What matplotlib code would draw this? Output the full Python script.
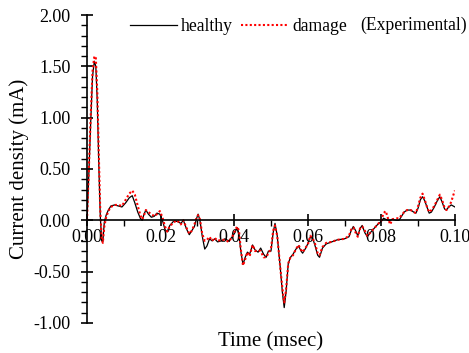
import numpy as np
import matplotlib
matplotlib.use("Agg")
from matplotlib import pyplot as plt
from matplotlib.ticker import MultipleLocator, FormatStrFormatter

plt.rcParams['font.family'] = ['Liberation Serif', 'DejaVu Serif']

# time (msec) and current density (mA) for both specimens
time_ms = [0.0000, 0.0005, 0.0010, 0.0015, 0.0020, 0.0024, 0.0028, 0.0032, 0.0036, 0.0040,
           0.0043, 0.0047, 0.0052, 0.0058, 0.0065, 0.0075, 0.0085, 0.0095, 0.0105, 0.0115,
           0.0123, 0.0130, 0.0138, 0.0145, 0.0150, 0.0155, 0.0160, 0.0167, 0.0175, 0.0183,
           0.0190, 0.0198, 0.0205, 0.0212, 0.0218, 0.0225, 0.0235, 0.0245, 0.0255, 0.0262,
           0.0270, 0.0278, 0.0285, 0.0292, 0.0298, 0.0302, 0.0307, 0.0313, 0.0320, 0.0326,
           0.0333, 0.0340, 0.0347, 0.0355, 0.0365, 0.0375, 0.0385, 0.0395, 0.0402, 0.0408,
           0.0413, 0.0418, 0.0424, 0.0430, 0.0436, 0.0442, 0.0450, 0.0457, 0.0465, 0.0472,
           0.0480, 0.0487, 0.0493, 0.0500, 0.0506, 0.0511, 0.0517, 0.0525, 0.0531, 0.0536,
           0.0541, 0.0547, 0.0553, 0.0560, 0.0568, 0.0575, 0.0582, 0.0586, 0.0593, 0.0600,
           0.0607, 0.0614, 0.0620, 0.0627, 0.0632, 0.0640, 0.0650, 0.0665, 0.0680, 0.0700,
           0.0712, 0.0718, 0.0724, 0.0730, 0.0736, 0.0742, 0.0748, 0.0755, 0.0762, 0.0770,
           0.0780, 0.0790, 0.0800, 0.0806, 0.0812, 0.0818, 0.0824, 0.0830, 0.0840, 0.0848,
           0.0855, 0.0862, 0.0870, 0.0880, 0.0888, 0.0894, 0.0900, 0.0906, 0.0912, 0.0918,
           0.0925, 0.0930, 0.0936, 0.0944, 0.0952, 0.0959, 0.0965, 0.0972, 0.0977, 0.0983,
           0.0990, 0.0995, 0.1000]

healthy = [0.00, 0.45, 0.95, 1.40, 1.55, 1.50, 1.15, 0.55, 0.05, -0.20,
           -0.21, -0.02, 0.05, 0.10, 0.14, 0.15, 0.14, 0.13, 0.17, 0.22,
           0.24, 0.17, 0.08, 0.02, 0.00, 0.06, 0.10, 0.06, 0.03, 0.04,
           0.07, 0.06, 0.00, -0.09, -0.11, -0.05, -0.01, -0.01, -0.03, 0.00,
           -0.08, -0.14, -0.10, -0.06, 0.02, 0.06, 0.00, -0.15, -0.28, -0.25,
           -0.18, -0.20, -0.18, -0.21, -0.20, -0.18, -0.20, -0.16, -0.12, -0.07,
           -0.14, -0.30, -0.43, -0.36, -0.31, -0.33, -0.24, -0.29, -0.31, -0.27,
           -0.33, -0.36, -0.30, -0.30, -0.12, -0.03, -0.15, -0.45, -0.70, -0.85,
           -0.70, -0.42, -0.36, -0.33, -0.28, -0.25, -0.30, -0.32, -0.28, -0.23,
           -0.16, -0.18, -0.25, -0.34, -0.36, -0.27, -0.23, -0.21, -0.19, -0.18,
           -0.16, -0.10, -0.06, -0.10, -0.15, -0.08, -0.05, -0.12, -0.16, -0.12,
           -0.08, -0.04, -0.01, 0.02, 0.01, 0.00, 0.00, 0.01, 0.00, 0.00,
           0.04, 0.08, 0.10, 0.10, 0.08, 0.07, 0.12, 0.20, 0.23, 0.19,
           0.12, 0.07, 0.08, 0.13, 0.19, 0.23, 0.18, 0.11, 0.10, 0.13,
           0.15, 0.14, 0.13]

damage = [0.00, 0.50, 1.00, 1.45, 1.60, 1.58, 1.25, 0.65, 0.10, -0.18,
          -0.22, -0.06, 0.03, 0.09, 0.13, 0.15, 0.15, 0.14, 0.20, 0.26,
          0.29, 0.25, 0.14, 0.05, 0.01, 0.05, 0.10, 0.08, 0.06, 0.04,
          0.06, 0.09, 0.03, -0.06, -0.11, -0.06, -0.02, 0.00, -0.04, 0.00,
          -0.07, -0.13, -0.10, -0.04, 0.03, 0.05, 0.01, -0.13, -0.20, -0.19,
          -0.16, -0.20, -0.17, -0.20, -0.19, -0.19, -0.21, -0.16, -0.10, -0.06,
          -0.10, -0.28, -0.44, -0.38, -0.31, -0.35, -0.24, -0.30, -0.29, -0.30,
          -0.36, -0.36, -0.32, -0.28, -0.10, -0.05, -0.15, -0.45, -0.66, -0.80,
          -0.68, -0.42, -0.36, -0.34, -0.28, -0.24, -0.29, -0.31, -0.27, -0.24,
          -0.15, -0.18, -0.23, -0.32, -0.34, -0.26, -0.22, -0.21, -0.19, -0.18,
          -0.15, -0.09, -0.07, -0.12, -0.16, -0.08, -0.06, -0.10, -0.15, -0.12,
          -0.08, -0.04, 0.00, 0.07, 0.09, 0.02, -0.04, 0.01, 0.02, 0.02,
          0.05, 0.08, 0.10, 0.10, 0.08, 0.07, 0.14, 0.22, 0.26, 0.20,
          0.12, 0.08, 0.10, 0.14, 0.20, 0.25, 0.20, 0.12, 0.10, 0.13,
          0.18, 0.24, 0.29]

fig = plt.figure(figsize=(4.69, 3.53), dpi=100)
ax = fig.add_axes([0.1855, 0.085, 0.7845, 0.8725])

ax.plot(time_ms, healthy, color='black', lw=0.9, label='healthy')
ax.plot(time_ms, damage, color='red', lw=1.5, dashes=(1, 1.1), label='damage')

ax.set_xlim(0, 0.1)
ax.set_ylim(-1, 2)

# axes cross at the origin
ax.spines['top'].set_visible(False)
ax.spines['right'].set_visible(False)
ax.spines['bottom'].set_position(('data', 0))
ax.spines['left'].set_linewidth(1.2)
ax.spines['bottom'].set_linewidth(1.2)

ax.xaxis.set_major_locator(MultipleLocator(0.02))
ax.xaxis.set_minor_locator(MultipleLocator(0.01))
ax.yaxis.set_major_locator(MultipleLocator(0.5))
ax.yaxis.set_minor_locator(MultipleLocator(0.1))
ax.xaxis.set_major_formatter(FormatStrFormatter('%.2f'))
ax.yaxis.set_major_formatter(FormatStrFormatter('%.2f'))

ax.tick_params(which='major', direction='inout', length=8, width=1.2, labelsize=13)
ax.tick_params(which='minor', direction='out', length=4, width=1.0)
ax.tick_params(axis='x', which='major', pad=2)
ax.tick_params(axis='y', which='major', pad=8)

ax.set_xlabel('Time (msec)', fontsize=15)
ax.set_ylabel('Current density (mA)', fontsize=15)
ax.xaxis.set_label_coords(0.5, -0.03)
ax.yaxis.set_label_coords(-0.158, 0.5)

leg = ax.legend(loc='upper left', bbox_to_anchor=(0.073, 1.042), ncol=2, frameon=False,
                fontsize=12.7, handlelength=2.7, handletextpad=0.2, columnspacing=0.45)
ax.text(0.742, 0.967, '(Experimental)', transform=ax.transAxes, ha='left', va='center',
        fontsize=12.7)

fig.savefig('out.png', dpi=100)
